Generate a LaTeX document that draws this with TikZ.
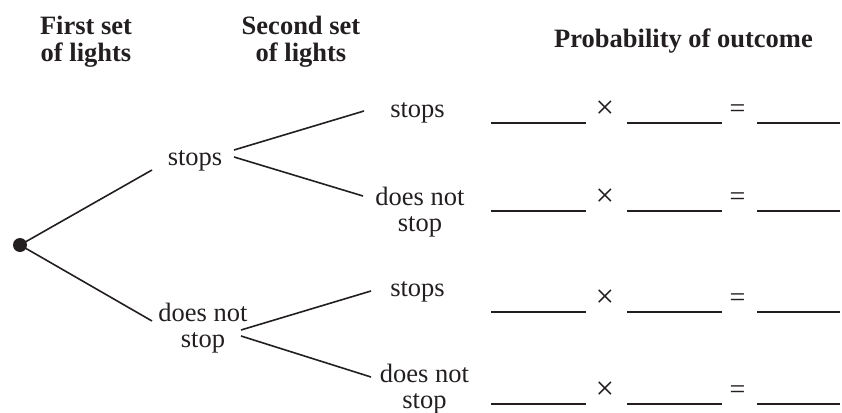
\documentclass[tikz,border=0pt]{standalone}
\usepackage{fontspec}
\setmainfont{Liberation Serif}
\usetikzlibrary{calc}
\definecolor{ink}{RGB}{35,31,32}
\begin{document}
\begin{tikzpicture}[x=1pt,y=-1pt,
  every node/.style={inner sep=0pt, outer sep=0pt, text=ink},
  lbl/.style={anchor=base, font=\fontsize{26.5}{26}\selectfont, align=center},
  head/.style={anchor=base, font=\fontsize{26.5}{26}\selectfont\bfseries, align=center},
  branch/.style={draw=ink, line width=1.6pt},
  blank/.style={draw=ink, line width=1.9pt},
  op/.style={anchor=center, font=\fontsize{26.5}{26}\selectfont}]
\useasboundingbox (0,0) rectangle (842,412);

% headings (base = baseline of last line)
\node[head] (h1) at (86,61) {First set\\of lights};
\node[head] (h2) at (301,61) {Second set\\of lights};
\node[head] (h3) at (683.5,48) {Probability of outcome};

% tree nodes
\node[lbl] (a1) at (195,165) {stops};
\node[lbl] (a2) at (203,347) {does not\\stop};
\node[lbl] (b1) at (417.5,117) {stops};
\node[lbl] (b2) at (420,231) {does not\\stop};
\node[lbl] (b3) at (417.5,296) {stops};
\node[lbl] (b4) at (424.5,408) {does not\\stop};

% branches
\draw[branch] (20,245) -- ($(a1.base)+(-43,5)$);
\draw[branch] (20,245) -- ($(a2.base)+(-51,-26)$);
\node[circle, fill=ink, minimum size=14pt] (dot) at (20,245) {};
\draw[branch] ($(a1.base)+(39,-15)$) -- ($(b1.base)+(-53.5,-6)$);
\draw[branch] ($(a1.base)+(39,-8)$) -- ($(b2.base)+(-57,-35)$);
\draw[branch] ($(a2.base)+(38,-17)$) -- ($(b3.base)+(-46.5,-5)$);
\draw[branch] ($(a2.base)+(38,-11)$) -- ($(b4.base)+(-53.5,-31)$);

% probability blanks
\foreach \y [count=\i] in {123,211,312,404}{
  \draw[blank] (491,\y) -- (586,\y);
  \draw[blank] (627,\y) -- (722,\y);
  \draw[blank] (757,\y) -- (840,\y);
  \node[op, font=\fontsize{33}{33}\selectfont] (x\i) at (605,\y-13) {×};
  \node[op, font=\fontsize{28}{28}\selectfont] (e\i) at (737.5,\y-12) {=};
}
\end{tikzpicture}
\end{document}
